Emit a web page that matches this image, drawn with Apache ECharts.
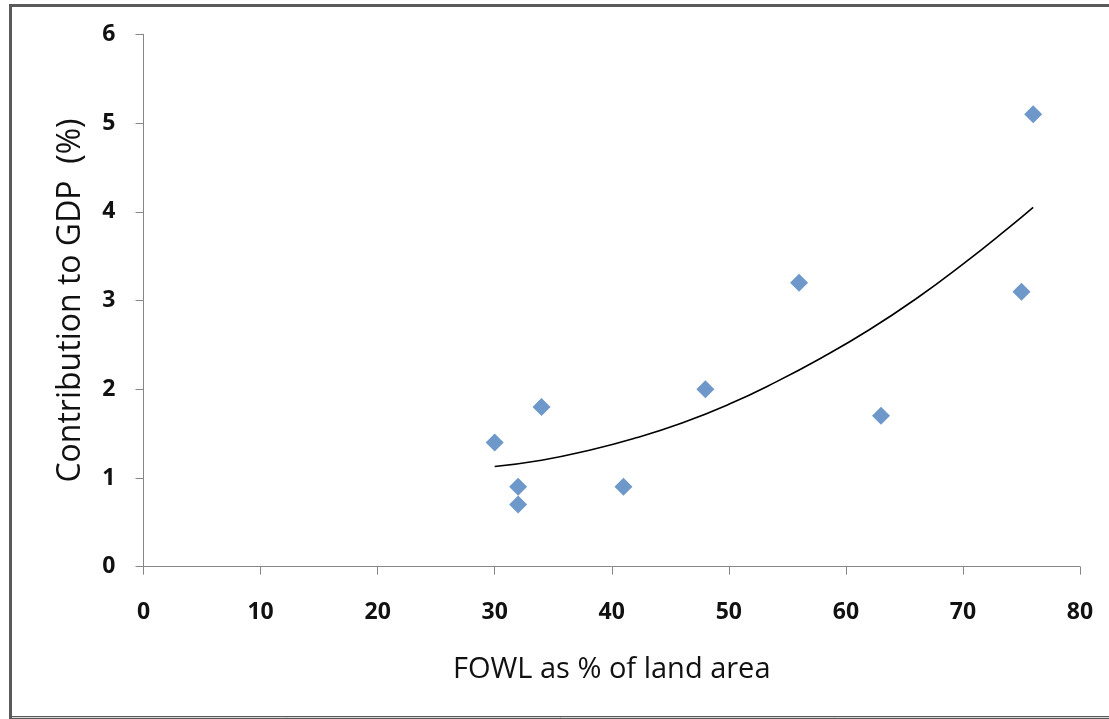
<!DOCTYPE html>
<html>
<head>
<meta charset="utf-8">
<script src="https://cdn.jsdelivr.net/npm/echarts@6/dist/echarts.min.js"></script>
<style>
html,body{margin:0;padding:0;background:#fff;}
#chart{width:1109px;height:719px;}
</style>
</head>
<body>
<div id="chart"></div>
<script>
var xTicks = [0, 10, 20, 30, 40, 50, 60, 70, 80];
var yTicks = [0, 1, 2, 3, 4, 5, 6];
var fowlPct = [30, 32, 32, 34, 41, 48, 56, 63, 75, 76];
var gdpPct = [1.4, 0.9, 0.7, 1.8, 0.9, 2.0, 3.2, 1.7, 3.1, 5.1];
var trendX = [30, 34, 38, 42, 46, 50, 54, 58, 62, 66, 70, 74, 76];
var trendY = [1.13, 1.20, 1.31, 1.45, 1.62, 1.83, 2.08, 2.36, 2.67, 3.02, 3.41, 3.83, 4.05];

var scatterData = fowlPct.map(function (x, i) { return [x, gdpPct[i]]; });
var trendData = trendX.map(function (x, i) { return [x, trendY[i]]; });

var chart = echarts.init(document.getElementById('chart'));
var font = '"Open Sans", Lato, sans-serif';
chart.setOption({
  backgroundColor: '#ffffff',
  animation: false,
  grid: { left: 143.5, right: 29, top: 34.3, bottom: 152.3, containLabel: false },
  xAxis: {
    type: 'value',
    min: xTicks[0], max: xTicks[xTicks.length - 1], interval: 10,
    name: 'FOWL as % of land area',
    nameLocation: 'middle', nameGap: 89,
    nameTextStyle: { fontFamily: font, fontSize: 29, color: '#111' },
    axisLine: { show: true, lineStyle: { color: '#868686', width: 1 } },
    axisTick: { show: true, length: 8, lineStyle: { color: '#868686' } },
    axisLabel: { fontFamily: font, fontSize: 23, fontWeight: 'bold', color: '#111', margin: 34 },
    splitLine: { show: false }
  },
  yAxis: {
    type: 'value',
    min: yTicks[0], max: yTicks[yTicks.length - 1], interval: 1,
    name: 'Contribution to GDP  (%)',
    nameLocation: 'middle', nameGap: 57, nameRotate: 90,
    nameTextStyle: { fontFamily: font, fontSize: 32, color: '#111' },
    axisLine: { show: true, lineStyle: { color: '#868686', width: 1 } },
    axisTick: { show: true, length: 8, lineStyle: { color: '#868686' } },
    axisLabel: { fontFamily: font, fontSize: 23, fontWeight: 'bold', color: '#111', margin: 28 },
    splitLine: { show: false }
  },
  series: [
    {
      type: 'line',
      data: trendData,
      smooth: true,
      showSymbol: false,
      symbol: 'none',
      lineStyle: { color: '#000', width: 1.6 },
      z: 2
    },
    {
      type: 'scatter',
      data: scatterData,
      symbol: 'diamond',
      symbolSize: [18, 18],
      itemStyle: { color: '#4A7EBB' },
      z: 3
    }
  ],
  graphic: [
    {
      type: 'rect',
      shape: { x: 10.5, y: 5.5, width: 1200, height: 712 },
      style: { fill: 'none', stroke: '#5a5a5a', lineWidth: 3 },
      silent: true
    },
    {
      type: 'line',
      shape: { x1: 12, y1: 717.5, x2: 1109, y2: 717.5 },
      style: { stroke: '#d8d8d8', lineWidth: 1 },
      silent: true
    }
  ]
});
</script>
</body>
</html>
